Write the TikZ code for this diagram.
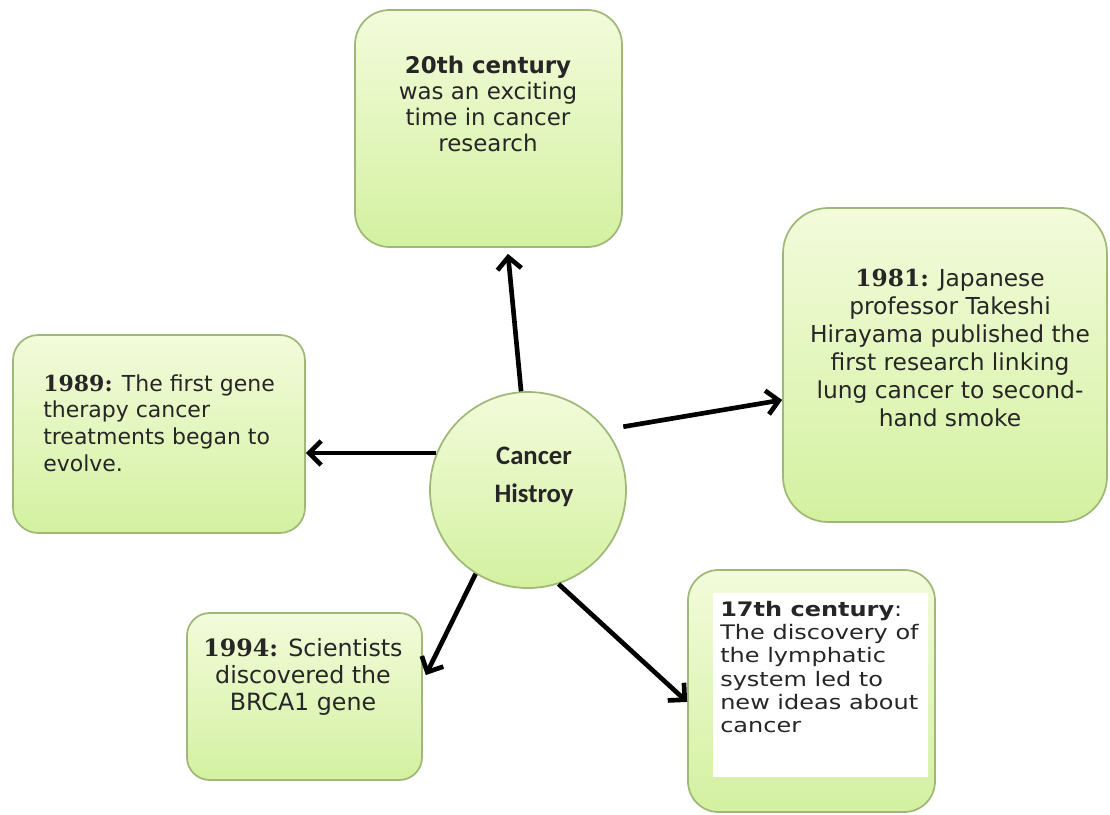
\documentclass[tikz,border=0pt]{standalone}
\usepackage{fontspec}
\setmainfont{DejaVu Sans}
\newfontfamily\yearfont{DejaVu Serif}
\newfontfamily\hubfont{Carlito}
\newfontfamily\widefont[FakeStretch=1.2]{DejaVu Sans}
\usetikzlibrary{arrows.meta}
\definecolor{boxtop}{HTML}{F3FBDB}
\definecolor{boxbot}{HTML}{D3F1A0}
\definecolor{boxline}{HTML}{9FB878}
\definecolor{inktext}{HTML}{262626}
\tikzset{
  roundbox/.style={draw=boxline,line width=1.3pt,top color=boxtop,bottom color=boxbot,
    rectangle,inner sep=0pt},
  histarrow/.style={line width=3.5pt,-{Straight Barb[length=9pt,width=18pt]}},
  histtext/.style={inner sep=0pt,text=inktext},
}
\newcommand{\yr}[1]{{\yearfont\bfseries #1}}
\begin{document}
\begin{tikzpicture}[x=0.75pt,y=-0.75pt]
    \useasboundingbox (0,0) rectangle (1110,814);
    %% Boxes
    \node[roundbox,rounded corners=26pt,minimum width=200.25pt,minimum height=177.75pt] (top) at (488.5,128.5) {};
    \node[roundbox,rounded corners=34pt,minimum width=243pt,minimum height=235.5pt] (right) at (945,365) {};
    \node[roundbox,rounded corners=19pt,minimum width=219pt,minimum height=148.5pt] (left) at (159,434) {};
    \node[roundbox,rounded corners=17pt,minimum width=176.25pt,minimum height=125.25pt] (bleft) at (304.5,696.5) {};
    \node[roundbox,rounded corners=23pt,minimum width=185.25pt,minimum height=181.5pt] (bright) at (811.5,691) {};
    \fill[white] (713,593) rectangle (928,777);
    %% Hub
    \node[circle,draw=boxline,line width=1.3pt,top color=boxtop,bottom color=boxbot,minimum size=147pt,inner sep=0pt] (C) at (528,490) {};
    %% Arrows
    \draw[histarrow] (C.94.6) -- ([xshift=14.6pt,yshift=-4.5pt]top.south);
    \draw[histarrow] (C.158.3) -- (C.158.3 -| left.east);
    \draw[histarrow] ([xshift=10pt,yshift=6pt]C.34.7) -- ([yshift=-26.2pt]right.west);
    \draw[histarrow] (C.238.9) -- ([xshift=2.2pt,yshift=16.1pt]bleft.east);
    \draw[histarrow] (C.288) -- ([yshift=-8.2pt]bright.west);
    %% Labels
    \node[histtext,align=center,font=\fontsize{17.2}{19.3}\selectfont] (top-t) at (488,104)
      {\textbf{20th century}\\was an exciting\\time in cancer\\research};
    \node[histtext,align=center,font=\fontsize{17.5}{21}\selectfont] (right-t) at (950,348)
      {\yr{1981:} Japanese\\professor Takeshi\\Hirayama published the\\first research linking\\lung cancer to second-\\hand smoke};
    \node[histtext,align=left,anchor=west,font=\fontsize{16.5}{20}\selectfont] (left-t) at (43,423)
      {\yr{1989:} The first gene\\therapy cancer\\treatments began to\\evolve.};
    \node[histtext,align=center,font=\fontsize{17.8}{20}\selectfont] (bleft-t) at (303,677)
      {\yr{1994:} Scientists\\discovered the\\BRCA1 gene};
    \node[histtext,align=left,anchor=west,font=\widefont\fontsize{15}{17.3}\selectfont] (bright-t) at (720,667)
      {\textbf{17th century}:\\The discovery of\\the lymphatic\\system led to\\new ideas about\\cancer};
    \node[histtext,align=center,font=\hubfont\bfseries\fontsize{20}{28.5}\selectfont] (C-t) at (534,477)
      {Cancer\\Histroy};
\end{tikzpicture}
\end{document}
